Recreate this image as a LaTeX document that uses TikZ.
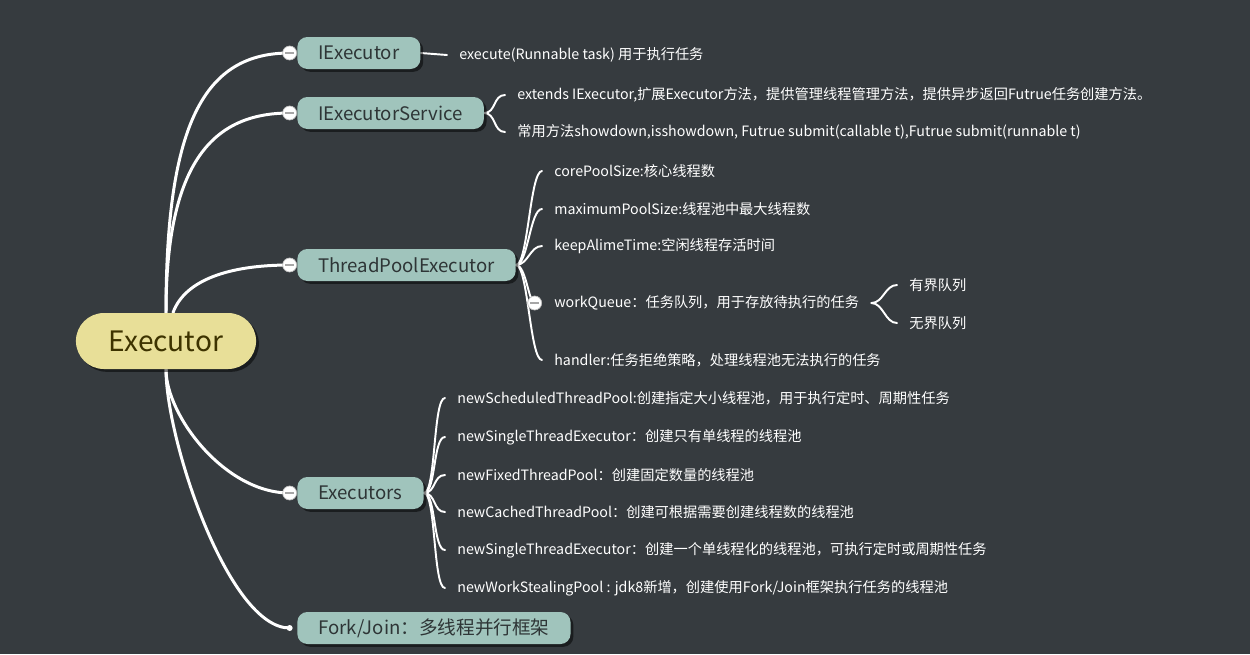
\documentclass[tikz,border=0pt]{standalone}
\usepackage{fontspec}
\newfontfamily\cjk{Noto Sans CJK SC}
\usetikzlibrary{positioning,shadows,backgrounds}
\definecolor{bgcol}{HTML}{363B3F}
\definecolor{rootfill}{HTML}{E8DF98}
\definecolor{roottext}{HTML}{3D3300}
\definecolor{topicfill}{HTML}{A0C4BC}
\definecolor{topictext}{HTML}{2E3536}

\begin{document}
\begin{tikzpicture}[
    x=0.02cm, y=-0.02cm,
    every node/.style={font=\cjk},
    mainidea/.style={fill=rootfill, text=roottext, rounded corners=0.56cm,
      minimum height=1.12cm, inner xsep=0.66cm,
      font=\cjk\fontsize{16}{19}\selectfont,
      drop shadow={shadow xshift=1.6pt, shadow yshift=-1.6pt, fill=black, opacity=0.5}},
    topic/.style={anchor=west, fill=topicfill, text=topictext, rounded corners=0.2cm,
      minimum height=0.64cm, inner xsep=0.42cm,
      font=\cjk\fontsize{10.6}{12}\selectfont,
      drop shadow={shadow xshift=1.6pt, shadow yshift=-1.6pt, fill=black, opacity=0.5}},
    detail/.style={anchor=west, text=white, inner xsep=0.24cm, inner ysep=0pt,
      font=\cjk\fontsize{8.1}{10}\selectfont},
    fold/.style={circle, fill=white, draw=gray!50, line width=0.4pt,
      minimum size=0.28cm, inner sep=0pt,
      path picture={\draw[gray!70, line width=1.1pt]
        ([xshift=-0.09cm]path picture bounding box.center) --
        ([xshift=0.09cm]path picture bounding box.center);}},
    knob/.style={circle, fill=white, minimum size=0.12cm, inner sep=0pt},
    branch/.style={draw=white, line width=1.7pt, line cap=round},
    twig/.style={draw=white, line width=1.1pt, line cap=round}
  ]
  % central idea
  \node[mainidea] (exec) at (166,341) {Executor};

  % first level
  \node[topic] (iexec) at (297,53) {IExecutor};
  \node[topic] (iserv) at (297,113) {IExecutorService};
  \node[topic] (tpe) at (297,265) {ThreadPoolExecutor};
  \node[topic] (execs) at (297,493) {Executors};
  \node[topic] (fj) at (297,628) {Fork/Join：多线程并行框架};
  \node[fold, left=0pt of iexec] (f1) {};
  \node[fold, left=0pt of iserv] (f2) {};
  \node[fold, left=0pt of tpe] (f3) {};
  \node[fold, left=0pt of execs] (f4) {};
  \node[knob, left=0.08cm of fj] (f5) {};

  % details
  \node[detail] (ie1) at (447,55) {execute(Runnable task) 用于执行任务};
  \node[detail] (is1) at (505,95) {extends IExecutor,扩展Executor方法，提供管理线程管理方法，提供异步返回Futrue任务创建方法。};
  \node[detail] (is2) at (505,132) {常用方法showdown,isshowdown, Futrue submit(callable t),Futrue submit(runnable t)};
  \node[detail] (tp1) at (542,171) {corePoolSize:核心线程数};
  \node[detail] (tp2) at (542,209) {maximumPoolSize:线程池中最大线程数};
  \node[detail] (tp3) at (542,246) {keepAlimeTime:空闲线程存活时间};
  \node[detail] (tp4) at (542,303) {workQueue：任务队列，用于存放待执行的任务};
  \node[detail] (tp5) at (542,360) {handler:任务拒绝策略，处理线程池无法执行的任务};
  \node[fold, left=0pt of tp4] (f6) {};
  \node[detail] (wq1) at (897,285) {有界队列};
  \node[detail] (wq2) at (897,323) {无界队列};
  \node[detail] (ex1) at (445,398) {newScheduledThreadPool:创建指定大小线程池，用于执行定时、周期性任务};
  \node[detail] (ex2) at (445,437) {newSingleThreadExecutor：创建只有单线程的线程池};
  \node[detail] (ex3) at (445,475) {newFixedThreadPool：创建固定数量的线程池};
  \node[detail] (ex4) at (445,512) {newCachedThreadPool：创建可根据需要创建线程数的线程池};
  \node[detail] (ex5) at (445,550) {newSingleThreadExecutor：创建一个单线程化的线程池，可执行定时或周期性任务};
  \node[detail] (ex6) at (445,588) {newWorkStealingPool : jdk8新增，创建使用Fork/Join框架执行任务的线程池};

  \begin{scope}[on background layer]
    \fill[bgcol] (0,0) rectangle (1250,654);
    \draw[branch] (exec.north) .. controls +(0,-190) and +(-85,0) .. (f1.center);
    \draw[branch] (exec.north) .. controls +(0,-153) and +(-75,0) .. (f2.center);
    \draw[branch] ([xshift=0.14cm]exec.north) .. controls +(12,-33) and +(-60,0) .. (f3.center);
    \draw[branch] (exec.south) .. controls +(0,46) and +(-65,0) .. (f4.center);
    \draw[branch] (exec.south) .. controls +(0,71) and +(-61,0) .. (f5.center);

    \draw[twig] (iexec.east) -- (ie1.west);
    \foreach \c in {is1,is2}
      \draw[twig] (iserv.east) .. controls +(12,0) and +(-12,0) .. (\c.west);
    \foreach \c in {tp1,tp2,tp3,tp5}
      \draw[twig] (tpe.east) .. controls +(12,0) and +(-12,0) .. (\c.west);
    \draw[twig] (tpe.east) .. controls +(10,0) and +(-6,0) .. (f6.center);
    \foreach \c in {wq1,wq2}
      \draw[twig] (tp4.east) .. controls +(12,0) and +(-12,0) .. (\c.west);
    \foreach \c in {ex1,ex2,ex3,ex4,ex5,ex6}
      \draw[twig] (execs.east) .. controls +(12,0) and +(-12,0) .. (\c.west);
  \end{scope}
\end{tikzpicture}
\end{document}
